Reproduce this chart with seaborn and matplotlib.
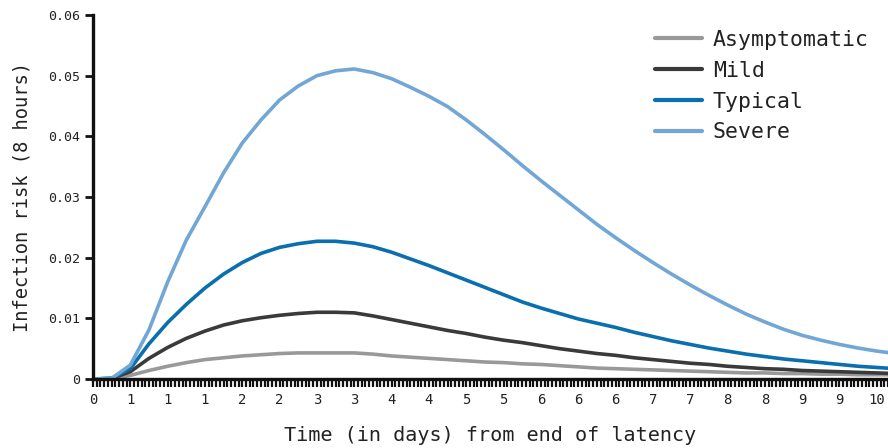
import matplotlib
matplotlib.use("Agg")
import matplotlib.pyplot as plt
import seaborn as sns
import pandas as pd
import numpy as np

# x positions (tick index; one tick per data step, labels every 10 ticks)
x_index = [0, 5, 10, 15, 20, 25, 30, 35, 40, 45, 50, 55, 60, 65, 70, 75, 80, 85, 90, 95,
           100, 105, 110, 115, 120, 125, 130, 135, 140, 145, 150, 155, 160, 165, 170, 175,
           180, 185, 190, 195, 200, 205, 210, 215]

severe = [0.0, 0.0001, 0.0023, 0.0081, 0.0160, 0.0229, 0.0284, 0.0340, 0.0389, 0.0427,
          0.0460, 0.0483, 0.0500, 0.0508, 0.0511, 0.0505, 0.0495, 0.0481, 0.0466, 0.0449,
          0.0427, 0.0403, 0.0378, 0.0352, 0.0327, 0.0303, 0.0279, 0.0255, 0.0233, 0.0212,
          0.0192, 0.0173, 0.0155, 0.0138, 0.0122, 0.0107, 0.0094, 0.0082, 0.0072, 0.0064,
          0.0057, 0.0051, 0.0046, 0.0042]
typical = [0.0, 0.0001, 0.0017, 0.0058, 0.0093, 0.0123, 0.0150, 0.0173, 0.0192, 0.0207,
           0.0217, 0.0223, 0.0227, 0.0227, 0.0224, 0.0218, 0.0209, 0.0198, 0.0187, 0.0175,
           0.0163, 0.0151, 0.0139, 0.0127, 0.0117, 0.0108, 0.0099, 0.0092, 0.0085, 0.0077,
           0.0070, 0.0063, 0.0057, 0.0051, 0.0046, 0.0041, 0.0037, 0.0033, 0.0030, 0.0027,
           0.0024, 0.0021, 0.0019, 0.0017]
mild = [0.0, 0.0001, 0.0012, 0.0034, 0.0052, 0.0067, 0.0079, 0.0089, 0.0096, 0.0101,
        0.0105, 0.0108, 0.0110, 0.0110, 0.0109, 0.0104, 0.0098, 0.0092, 0.0086, 0.0080,
        0.0075, 0.0069, 0.0064, 0.0060, 0.0055, 0.0050, 0.0046, 0.0042, 0.0039, 0.0035,
        0.0032, 0.0029, 0.0026, 0.0024, 0.0021, 0.0019, 0.0017, 0.0016, 0.0014, 0.0013,
        0.0012, 0.0011, 0.0010, 0.0009]
asymptomatic = [0.0, 0.0001, 0.0006, 0.0014, 0.0021, 0.0027, 0.0032, 0.0035, 0.0038, 0.0040,
                0.0042, 0.0043, 0.0043, 0.0043, 0.0043, 0.0041, 0.0038, 0.0036, 0.0034, 0.0032,
                0.0030, 0.0028, 0.0027, 0.0025, 0.0024, 0.0022, 0.0020, 0.0018, 0.0017, 0.0016,
                0.0015, 0.0014, 0.0013, 0.0012, 0.0011, 0.0010, 0.0010, 0.0009, 0.0009, 0.0008,
                0.0008, 0.0007, 0.0007, 0.0007]

categories = ["Asymptomatic", "Mild", "Typical", "Severe"]
colors = ["#999999", "#3a3a3a", "#0a6fae", "#72a6d4"]

tick_labels = ["0", "1", "1", "1", "2", "2", "3", "3", "4", "4", "5", "5",
               "6", "6", "6", "7", "7", "8", "8", "9", "9", "10"]
y_ticks = [0, 0.01, 0.02, 0.03, 0.04, 0.05, 0.06]
y_tick_labels = ["0", "0.01", "0.02", "0.03", "0.04", "0.05", "0.06"]

series = {"Asymptomatic": asymptomatic, "Mild": mild, "Typical": typical, "Severe": severe}
df = pd.concat([pd.DataFrame({"x": x_index, "risk": v, "group": k}) for k, v in series.items()],
               ignore_index=True)

sns.set_theme(style="white")
plt.rcParams['font.family'] = ['DejaVu Sans Mono', 'DejaVu Sans']

fig = plt.figure(figsize=(8.88, 4.48), dpi=100)
ax = fig.add_axes([93/888, 69/448, 795/888, 364/448])

sns.lineplot(data=df, x="x", y="risk", hue="group", hue_order=categories,
             palette=colors, linewidth=2.6, ax=ax)

ax.set_xlim(0, 213)
ax.set_ylim(0, 0.06)

ax.set_xticks(np.arange(0, 214, 1), minor=True)
ax.set_xticks(np.arange(0, 10 * len(tick_labels), 10))
ax.set_xticklabels(tick_labels, fontsize=10, color="#222222")
ax.set_yticks(y_ticks)
ax.set_yticklabels(y_tick_labels, fontsize=9.5, color="#222222")

ax.tick_params(axis="x", which="both", direction="out", length=6, width=1.6,
               color="#111111", bottom=True, pad=4)
ax.tick_params(axis="y", which="major", direction="out", length=6, width=2,
               color="#111111", left=True, pad=3)

for s in ["top", "right"]:
    ax.spines[s].set_visible(False)
for s in ["left", "bottom"]:
    ax.spines[s].set_linewidth(2.4)
    ax.spines[s].set_color("#111111")

ax.set_xlabel("Time (in days) from end of latency", fontsize=14.5, color="#222222", labelpad=14)
ax.set_ylabel("Infection risk (8 hours)", fontsize=13.5, color="#222222", labelpad=12)

leg = ax.legend(loc="upper right", bbox_to_anchor=(1.0, 1.012), frameon=False,
                fontsize=15.5, handlelength=2.2, handletextpad=0.5, labelspacing=0.5,
                title=None)
for line in leg.get_lines():
    line.set_linewidth(3)
for t in leg.get_texts():
    t.set_color("#222222")

fig.savefig("out.png", dpi=100)
